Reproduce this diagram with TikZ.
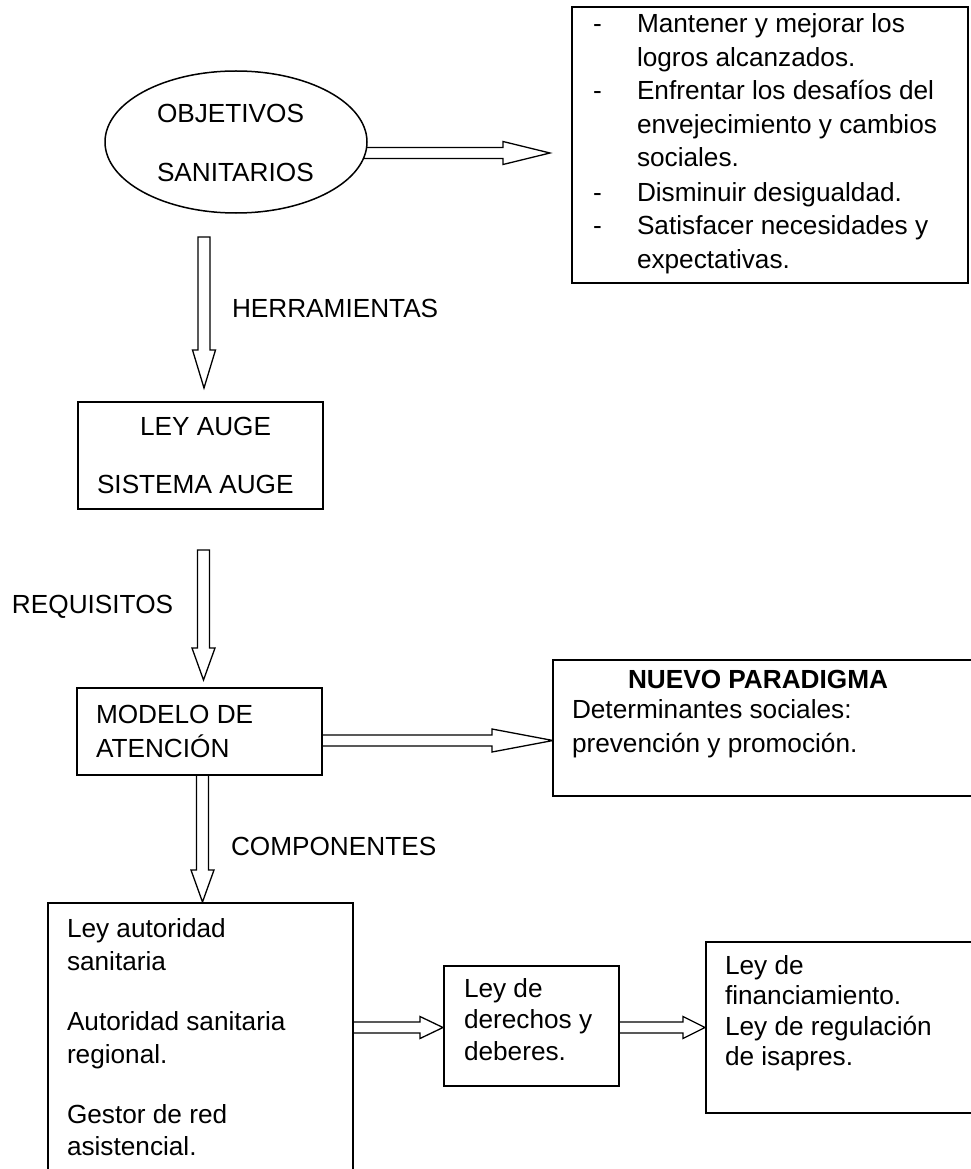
\documentclass[tikz,border=0pt]{standalone}
\usepackage{fontspec}
\setmainfont{Liberation Sans}
\usetikzlibrary{shapes.geometric,calc}
\pgfdeclarelayer{bg}
\pgfsetlayers{bg,main}
\tikzset{
  box/.style={draw, line width=1.6pt, fill=white, inner sep=0pt, outer sep=0pt, anchor=north west},
  oval/.style={draw, ellipse, line width=1.5pt, fill=white, inner sep=0pt, outer sep=0pt},
  txt/.style={anchor=base west, inner sep=0pt, outer sep=0pt, font=\fontsize{26.2}{30}\selectfont, text=black},
  blk/.style={line width=1.3pt, line join=miter},
}
\newcommand\myharrow[4]{%
  \draw[blk] ($(#1)+(0,-5.5)$) -- ($(#2)+(-#3,-5.5)$) -- ($(#2)+(-#3,-#4)$) -- (#2) -- ($(#2)+(-#3,#4)$) -- ($(#2)+(-#3,5.5)$) -- ($(#1)+(0,5.5)$);}
\newcommand\myvarrow[3]{%
  \draw[blk] ($(#1)+(-6,0)$) -- ($(#2)+(-6,-#3)$) -- ($(#2)+(-11.5,-#3)$) -- (#2) -- ($(#2)+(11.5,-#3)$) -- ($(#2)+(6,-#3)$) -- ($(#1)+(6,0)$) -- cycle;}
\begin{document}
\begin{tikzpicture}[x=1pt,y=-1pt]
\path[use as bounding box] (0,0) rectangle (971,1169);
\clip (0,0) rectangle (971,1169);

% shapes
\node[oval, minimum width=262pt, minimum height=142pt] (obj) at (236,142) {};
\node[box, minimum width=396pt, minimum height=276pt] (goals) at (572,7) {};
\node[box, minimum width=245pt, minimum height=107pt] (ley) at (78,402) {};
\node[box, minimum width=245pt, minimum height=87pt] (modelo) at (77,688) {};
\node[box, minimum width=425pt, minimum height=136pt] (nuevo) at (553,660) {};
\node[box, minimum width=305pt, minimum height=300pt] (comp) at (48,903) {};
\node[box, minimum width=175pt, minimum height=120pt] (derechos) at (444,966) {};
\node[box, minimum width=285pt, minimum height=171pt] (finan) at (706,942) {};

% connector coordinates
\coordinate (t1) at (550,153);
\coordinate (s1) at (obj.center |- t1);
\coordinate (s2) at (204,237);
\coordinate (t2) at (204,388);
\coordinate (s3) at (203.5,550);
\coordinate (t3) at (203.5,680);
\coordinate (t4) at (nuevo.west |- 0,740.5);
\coordinate (s4) at (modelo.east |- t4);
\coordinate (t5) at (202.5,902);
\coordinate (s5) at (t5 |- modelo.south);
\coordinate (t6) at (443,1027.5);
\coordinate (s6) at (comp.east |- t6);
\coordinate (t7) at (705,1027.5);
\coordinate (s7) at (derechos.east |- t7);

\begin{pgfonlayer}{bg}
\myharrow{s1}{t1}{47}{11.5}
\myvarrow{s2}{t2}{38}
\myvarrow{s3}{t3}{32}
\myharrow{s4}{t4}{61}{11.5}
\myvarrow{s5}{t5}{32}
\myharrow{s6}{t6}{23}{11}
\myharrow{s7}{t7}{22}{11}
\end{pgfonlayer}

% texts
\node[txt] (objA) at (157,123) {OBJETIVOS};
\node[txt] (objB) at (157,182) {SANITARIOS};

\node[txt] (d1) at (593,33) {-};
\node[txt] (g1) at (637,33) {Mantener y mejorar los};
\node[txt] (g2) at (637,67) {logros alcanzados.};
\node[txt] (d2) at (593,100) {-};
\node[txt] (g3) at (637,100) {Enfrentar los desafíos del};
\node[txt] (g4) at (637,134) {envejecimiento y cambios};
\node[txt] (g5) at (637,167) {sociales.};
\node[txt] (d3) at (593,201) {-};
\node[txt] (g6) at (637,201) {Disminuir desigualdad.};
\node[txt] (d4) at (593,234) {-};
\node[txt] (g7) at (637,234) {Satisfacer necesidades y};
\node[txt] (g8) at (637,268) {expectativas.};

\node[txt] (herr) at (232,317) {HERRAMIENTAS};
\node[txt] (leyA) at (140,435) {LEY AUGE};
\node[txt] (leyB) at (97,493) {SISTEMA AUGE};
\node[txt] (req) at (12,613) {REQUISITOS};
\node[txt] (modA) at (96,723) {MODELO DE};
\node[txt] (modB) at (96,757) {ATENCIÓN};
\node[txt, font=\bfseries\fontsize{26.2}{30}\selectfont] (nuA) at (628,688) {NUEVO PARADIGMA};
\node[txt] (nuB) at (572,718) {Determinantes sociales:};
\node[txt] (nuC) at (572,752) {prevención y promoción.};
\node[txt] (compo) at (231,855) {COMPONENTES};

\node[txt] (c1) at (67,937) {Ley autoridad};
\node[txt] (c2) at (67,970) {sanitaria};
\node[txt] (c3) at (67,1030) {Autoridad sanitaria};
\node[txt] (c4) at (67,1063) {regional.};
\node[txt] (c5) at (67,1123) {Gestor de red};
\node[txt] (c6) at (67,1155) {asistencial.};

\node[txt] (r1) at (464,997) {Ley de};
\node[txt] (r2) at (464,1028.5) {derechos y};
\node[txt] (r3) at (464,1060) {deberes.};

\node[txt] (f1) at (725,974) {Ley de};
\node[txt] (f2) at (725,1004) {financiamiento.};
\node[txt] (f3) at (725,1035) {Ley de regulación};
\node[txt] (f4) at (725,1065) {de isapres.};
\end{tikzpicture}
\end{document}
